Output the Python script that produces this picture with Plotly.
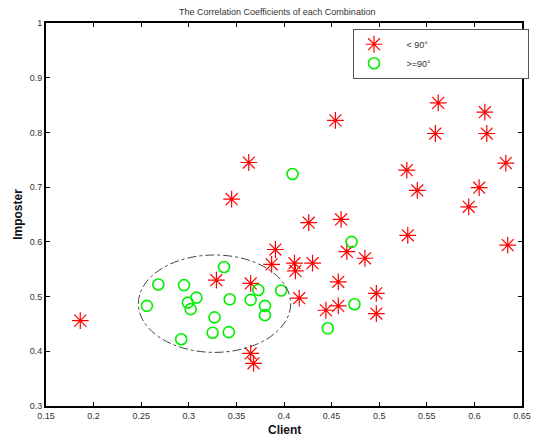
import plotly.graph_objects as go

# Red stars: angle < 90°
lt90_client = [0.186, 0.363, 0.345, 0.454, 0.426, 0.460, 0.562, 0.611, 0.559, 0.613,
               0.529, 0.540, 0.633, 0.605, 0.594, 0.530, 0.635, 0.497, 0.497, 0.391,
               0.466, 0.485, 0.387, 0.411, 0.430, 0.412, 0.457, 0.365, 0.416, 0.457,
               0.444, 0.365, 0.368, 0.329]
lt90_imposter = [0.456, 0.745, 0.678, 0.822, 0.635, 0.641, 0.854, 0.837, 0.798, 0.798,
                 0.731, 0.694, 0.744, 0.699, 0.664, 0.612, 0.594, 0.506, 0.469, 0.586,
                 0.582, 0.570, 0.559, 0.561, 0.561, 0.547, 0.527, 0.524, 0.497, 0.483,
                 0.475, 0.396, 0.378, 0.530]

# Green circles: angle >= 90°
ge90_client = [0.409, 0.471, 0.474, 0.446, 0.373, 0.397, 0.365, 0.380, 0.380, 0.268,
               0.295, 0.256, 0.299, 0.308, 0.302, 0.337, 0.343, 0.327, 0.325, 0.342,
               0.292]
ge90_imposter = [0.724, 0.600, 0.486, 0.442, 0.512, 0.511, 0.494, 0.483, 0.466, 0.522,
                 0.521, 0.483, 0.489, 0.498, 0.477, 0.554, 0.495, 0.462, 0.434, 0.435,
                 0.422]

x_ticks = [0.15, 0.2, 0.25, 0.3, 0.35, 0.4, 0.45, 0.5, 0.55, 0.6, 0.65]
y_ticks = [0.3, 0.4, 0.5, 0.6, 0.7, 0.8, 0.9, 1]

# dashed ellipse enclosing the cluster (data coordinates)
ellipse_x = [0.247, 0.407]
ellipse_y = [0.398, 0.576]

NB = "\u00a0"

fig = go.Figure()
fig.add_trace(go.Scatter(
    x=lt90_client, y=lt90_imposter, mode="markers",
    name=NB * 5 + "< 90°" + NB * 38,
    marker=dict(symbol="asterisk-open", size=14, color="red",
                line=dict(color="red", width=1.2)),
))
fig.add_trace(go.Scatter(
    x=ge90_client, y=ge90_imposter, mode="markers",
    name=NB * 5 + ">=90°",
    marker=dict(symbol="circle-open", size=11, color="#00ee00",
                line=dict(color="#00ee00", width=1.6)),
))

fig.add_shape(type="circle", xref="x", yref="y",
              x0=ellipse_x[0], x1=ellipse_x[1], y0=ellipse_y[0], y1=ellipse_y[1],
              line=dict(color="#444444", width=1, dash="dashdot"))

axis_common = dict(showline=True, linecolor="black", linewidth=2, mirror="allticks",
                   ticks="inside", ticklen=4, tickcolor="black", tickwidth=1,
                   showgrid=False, zeroline=False,
                   tickfont=dict(family="Liberation Sans, Arial", size=9, color="#333333"))

# page body has an 8px margin, so the figure is sized 532x428
fig.update_layout(
    width=532, height=428,
    margin=dict(l=34, r=9, t=15, b=30),
    paper_bgcolor="white", plot_bgcolor="white",
    font=dict(family="Liberation Sans, Arial", color="#222222"),
    title=dict(text="The Correlation Coefficients of each Combination",
               x=0.506, xanchor="center", y=0.992, yanchor="middle",
               font=dict(size=9, color="#333333")),
    xaxis=dict(range=[0.15, 0.65], tickvals=x_ticks,
               ticktext=[str(v) for v in x_ticks],
               **axis_common),
    yaxis=dict(range=[0.3, 1], tickvals=y_ticks,
               ticktext=[str(v) for v in y_ticks],
               title=dict(text="<b>Imposter</b>", standoff=4,
                          font=dict(size=12, color="#111111")),
               **axis_common),
    legend=dict(x=0.645, y=0.985, xanchor="left", yanchor="top",
                bgcolor="white", bordercolor="#555555", borderwidth=1,
                font=dict(size=9, color="#333333"),
                itemwidth=30, tracegroupgap=0),
    showlegend=True,
    annotations=[dict(text="<b>Client</b>", xref="paper", yref="paper",
                      x=0.5, y=-0.062, xanchor="center", yanchor="middle",
                      showarrow=False, font=dict(size=12, color="#111111"))],
)

fig.write_html("out.html")
